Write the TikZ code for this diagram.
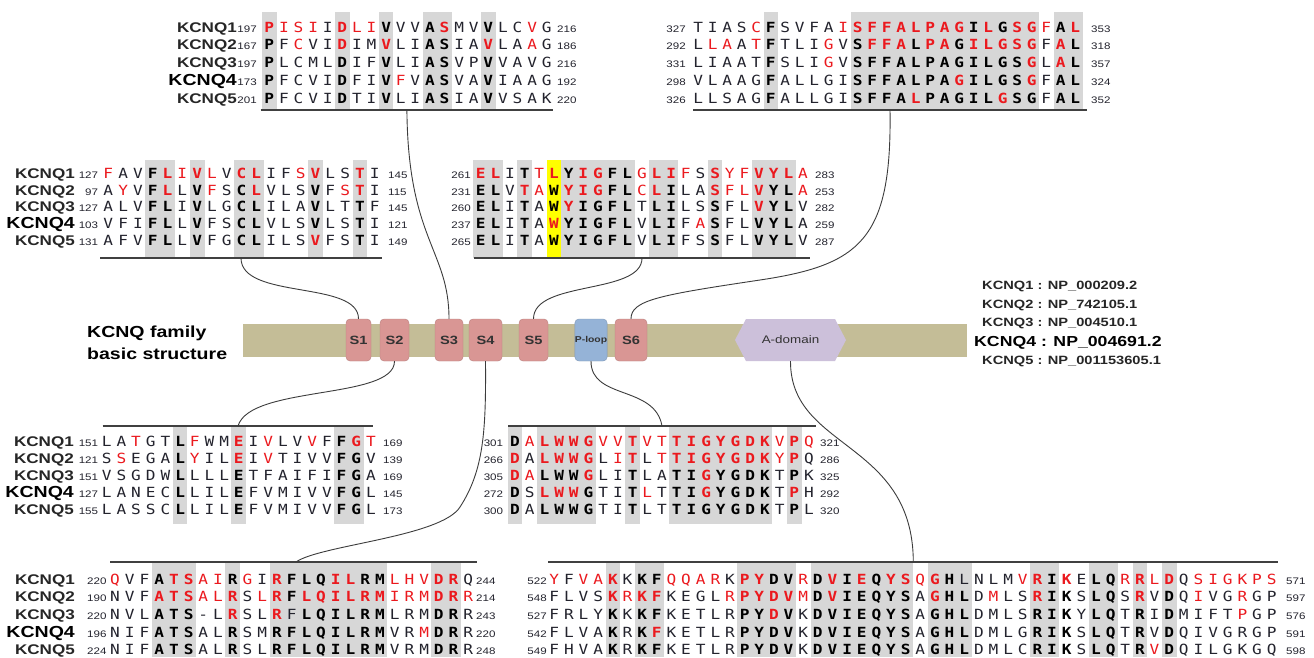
\documentclass[tikz,border=0pt]{standalone}
\usepackage{fontspec}
\setmainfont{Liberation Sans}
\newfontfamily\labfont{Liberation Sans}[FakeStretch=1.22]
\newfontfamily\seqfam{DejaVu Sans Mono}[FakeStretch=1.15]
\definecolor{seqred}{RGB}{235,25,30}
\definecolor{shadegray}{RGB}{215,215,215}
\definecolor{segred}{RGB}{217,150,148}
\definecolor{segblue}{RGB}{149,179,215}
\definecolor{adom}{RGB}{204,192,218}
\definecolor{bartan}{RGB}{196,189,151}
\definecolor{linegray}{RGB}{60,60,60}
\definecolor{txtdark}{RGB}{35,35,45}
\definecolor{yellowhl}{RGB}{255,255,0}

\tikzset{
 seqlet/.style={anchor=base, inner sep=0pt, outer sep=0pt},
 sn/.style={font=\seqfam\fontsize{14}{14}\selectfont, text=txtdark},
 sb/.style={font=\seqfam\bfseries\fontsize{14}{14}\selectfont, text=black},
 sr/.style={font=\seqfam\fontsize{14}{14}\selectfont, text=seqred},
 sR/.style={font=\seqfam\bfseries\fontsize{14}{14}\selectfont, text=seqred},
 seqcur/.style={sn},
 num/.style={font=\labfont\fontsize{9.5}{9.5}\selectfont, text=txtdark, inner sep=0pt},
 lab/.style={font=\labfont\bfseries\fontsize{14}{14}\selectfont, text=black!85, inner sep=0pt, anchor=base east},
 labbig/.style={font=\labfont\bfseries\fontsize{16}{16}\selectfont, text=black, inner sep=0pt, anchor=base east},
 legf/.style={font=\labfont\bfseries\fontsize{12}{12}\selectfont, text=black!85, inner sep=0pt, anchor=base west},
 legbig/.style={font=\labfont\bfseries\fontsize{14.5}{14.5}\selectfont, text=black, inner sep=0pt, anchor=base west},
 titlef/.style={font=\labfont\bfseries\fontsize{16}{16}\selectfont, text=black, inner sep=0pt, anchor=base west},
 uline/.style={draw=black!75, line width=1.4pt},
 conn/.style={draw=linegray, line width=0.9pt},
 gshade/.style={fill=shadegray},
 segbox/.style={draw=segred!85!black, line width=0.4pt, fill=segred, rounded corners=4pt, minimum height=42pt, inner sep=0pt, font=\labfont\bfseries\fontsize{12}{12}\selectfont, text=black!80},
}

\newcount\colidx
\def\setseq#1{\tikzset{seqcur/.style={#1}}}
\def\doseq#1{%
  \ifx#1\relax
  \else
    \ifx#1*\setseq{sb}%
    \else\ifx#1+\setseq{sr}%
    \else\ifx#1!\setseq{sR}%
    \else
      \node[seqlet,seqcur] at ({\seqx+\the\colidx*\seqdx},\seqy) {#1};%
      \global\advance\colidx by 1\relax
      \setseq{sn}%
    \fi\fi\fi
    \expandafter\doseq
  \fi}
\newcommand\seqrow[4]{\def\seqx{#1}\def\seqy{#2}\def\seqdx{#3}\global\colidx=0\relax\setseq{sn}\doseq#4\relax}
\newcommand\gcol[6]{\fill[gshade] ({#1+(#3-1.5)*#2},#5) rectangle ({#1+(#4-0.5)*#2},#6);}
\newcommand\kcnqlab[4]{%
  \foreach \i in {1,2,3,5}{\node[lab] (#1\i) at (#2,{#3+(\i-1)*#4}) {KCNQ\i};}
  \node[labbig] (#14) at (#2,{#3+3*#4}) {KCNQ4};}
\newcommand\numsL[5]{\foreach [count=\i] \n in {#5}{\node[num,anchor=base east] (#1\i) at (#2,{#3+(\i-1)*#4}) {\n};}}
\newcommand\numsR[5]{\foreach [count=\i] \n in {#5}{\node[num,anchor=base west] (#1\i) at (#2,{#3+(\i-1)*#4}) {\n};}}

\begin{document}
\begin{tikzpicture}[x=1pt,y=-1pt]
\useasboundingbox (0,0) rectangle (1314,657);
\fill[white] (0,0) rectangle (1314,657);

%% ---------- Block A (S3) ----------
\gcol{269.3}{14.6}{1}{1}{12}{110}
\gcol{269.3}{14.6}{6}{6}{12}{110}
\gcol{269.3}{14.6}{9}{9}{12}{110}
\gcol{269.3}{14.6}{12}{13}{12}{110}
\gcol{269.3}{14.6}{16}{16}{12}{110}
\seqrow{269.3}{32.2}{14.6}{!P +I +S +I I !D +L +I *V V V *A !S M V *V L C +V G}
\seqrow{269.3}{49.9}{14.6}{*P F +C V I !D I M !V L I *A *S I A !V L A +A G}
\seqrow{269.3}{67.6}{14.6}{*P L C M L *D I F *V L I *A *S V P *V V A V G}
\seqrow{269.3}{85.3}{14.6}{*P F C V I *D F I *V +F V *A *S V A *V I A A G}
\seqrow{269.3}{103.0}{14.6}{*P F C V I *D T I *V L I *A *S I A *V V S A K}
\kcnqlab{LA}{237}{32.2}{17.7}
\numsL{nA}{257}{32.2}{17.7}{197,167,197,173,201}
\numsR{eA}{557}{32.2}{17.7}{216,186,216,192,220}
\draw[uline] (260.7,110) -- (553,110);
\coordinate (uA) at (406.9,110);

%% ---------- Block B (S6) ----------
\gcol{698.3}{14.5}{6}{6}{12}{110}
\gcol{698.3}{14.5}{12}{24}{12}{110}
\gcol{698.3}{14.5}{26}{27}{12}{110}
\seqrow{698.3}{32.2}{14.5}{T I A S +C *F S V F A +I !S !F !F !A !L !P !A !G *I !L *G !S !G +F *A !L}
\seqrow{698.3}{49.9}{14.5}{L +L +A A +T *F T L I +G V *S !F !F !A *L !P !A *G !I !L !G !S !G F !A *L}
\seqrow{698.3}{67.6}{14.5}{L I A A T *F S L I +G V *S *F *F *A *L *P *A *G *I *L *G *S !G L !A *L}
\seqrow{698.3}{85.3}{14.5}{V L A A G *F A L L G I *S *F *F *A *L *P *A !G *I *L *G *S !G F *A *L}
\seqrow{698.3}{103.0}{14.5}{L L S A G *F A L L G I *S *F *F *A !L *P *A *G *I *L !G *S *G F *A *L}
\numsL{nB}{686}{32.2}{17.7}{327,292,331,298,326}
\numsR{eB}{1091}{32.2}{17.7}{353,318,357,324,352}
\draw[uline] (693,110) -- (1087,110);
\coordinate (uB) at (890,110);

%% ---------- Block C (S1) ----------
\gcol{108.3}{14.8}{4}{5}{160}{258}
\gcol{108.3}{14.8}{7}{7}{160}{258}
\gcol{108.3}{14.8}{10}{11}{160}{258}
\gcol{108.3}{14.8}{15}{15}{160}{258}
\gcol{108.3}{14.8}{18}{18}{160}{258}
\seqrow{108.3}{178.3}{14.8}{+F A V *F !L +I !V +L V !C !L I F +S !V L S !T I}
\seqrow{108.3}{195.1}{14.8}{A +Y V *F !L L *V +F S *C !L V L S *V F +S !T I}
\seqrow{108.3}{211.9}{14.8}{A L V *F *L I *V L G *C *L I L A *V L T *T F}
\seqrow{108.3}{228.7}{14.8}{V F I *F *L L *V F S *C *L V L S *V L S *T I}
\seqrow{108.3}{245.5}{14.8}{A F V *F *L L *V F G *C *L I L S !V F S *T I}
\kcnqlab{LC}{75}{178.3}{16.8}
\numsL{nC}{98.3}{178.3}{16.8}{127,97,127,103,131}
\numsR{eC}{388}{178.3}{16.8}{145,115,145,121,149}
\draw[uline] (100,258) -- (382,258);
\coordinate (uC) at (241,258);

%% ---------- Block D (S5) ----------
\gcol{480.7}{14.65}{1}{2}{160}{258}
\gcol{480.7}{14.65}{4}{4}{160}{258}
\fill[yellowhl] ({480.7+4.5*14.65},160) rectangle ({480.7+5.5*14.65},258);
\gcol{480.7}{14.65}{7}{11}{160}{258}
\gcol{480.7}{14.65}{13}{14}{160}{258}
\gcol{480.7}{14.65}{17}{17}{160}{258}
\gcol{480.7}{14.65}{20}{22}{160}{258}
\seqrow{480.7}{178.3}{14.65}{!E !L I *T +T !L *Y !I !G *F *L +G !L !I +F S !S +Y +F !V !Y !L +A}
\seqrow{480.7}{195.1}{14.65}{*E *L V !T +A *W !Y !I !G *F *L +C !L *I L A !S +F +L !V *Y *L +A}
\seqrow{480.7}{211.9}{14.65}{*E *L I *T A *W !Y *I *G *F *L T *L *I L S *S F L !V *Y *L V}
\seqrow{480.7}{228.7}{14.65}{*E *L I *T A !W *Y *I *G *F *L V *L *I F +A *S F L *V *Y *L A}
\seqrow{480.7}{245.5}{14.65}{*E *L I *T A *W *Y *I *G *F *L V *L *I F S *S F L *V *Y *L V}
\numsL{nD}{471}{178.3}{16.8}{261,231,260,237,265}
\numsR{eD}{815}{178.3}{16.8}{283,253,282,259,287}
\draw[uline] (474,258) -- (810,258);
\coordinate (uD) at (642,258);

%% ---------- Block E (S2) ----------
\gcol{106.7}{14.68}{6}{6}{426}{524}
\gcol{106.7}{14.68}{10}{10}{426}{524}
\gcol{106.7}{14.68}{17}{18}{426}{524}
\seqrow{106.7}{446.2}{14.68}{L A +T G T *L +F W M !E I +V L V +V F *F !G +T}
\seqrow{106.7}{463.3}{14.68}{S +S E G A *L +Y I L !E I +V T I V V *F *G V}
\seqrow{106.7}{480.4}{14.68}{V S G D W *L L L L *E T F A I F I *F *G A}
\seqrow{106.7}{497.5}{14.68}{L A N E C *L L I L *E F V M I V V *F *G L}
\seqrow{106.7}{514.6}{14.68}{L A S S C *L L I L *E F V M I V V *F *G L}
\kcnqlab{LE}{74}{446.2}{17.1}
\numsL{nE}{98.3}{446.2}{17.1}{151,121,151,127,155}
\numsR{eE}{383}{446.2}{17.1}{169,139,169,145,173}
\draw[uline] (102.7,426) -- (373.3,426);
\coordinate (uE) at (238,426);

%% ---------- Block F (P-loop) ----------
\gcol{515}{14.7}{1}{1}{426}{524}
\gcol{515}{14.7}{3}{6}{426}{524}
\gcol{515}{14.7}{9}{9}{426}{524}
\gcol{515}{14.7}{12}{18}{426}{524}
\gcol{515}{14.7}{20}{20}{426}{524}
\seqrow{515}{446.2}{14.7}{*D +A !L !W !W !G +V +V !T +V +T !T !I !G !Y !G !D !K +V !P +Q}
\seqrow{515}{463.3}{14.7}{!D A !L !W !W !G L +I !T L +T !T !I !G !Y !G !D !K +Y !P Q}
\seqrow{515}{480.4}{14.7}{!D +A *L *W *W !G L I *T L A *T *I !G *Y *G *D *K T *P K}
\seqrow{515}{497.5}{14.7}{*D S !L !W !W *G T I *T +L T *T *I !G *Y *G *D *K T !P H}
\seqrow{515}{514.6}{14.7}{*D A *L *W *W *G T I *T L T *T *I *G *Y *G *D *K T *P L}
\numsL{nF}{503.3}{446.2}{17.1}{301,266,305,272,300}
\numsR{eF}{820}{446.2}{17.1}{321,286,325,292,320}
\draw[uline] (508,426) -- (816,426);
\coordinate (uF) at (662,426);

%% ---------- Block G (S4) ----------
\gcol{115}{14.72}{4}{6}{562}{657}
\gcol{115}{14.72}{9}{9}{562}{657}
\gcol{115}{14.72}{12}{19}{562}{657}
\gcol{115}{14.72}{23}{24}{562}{657}
\seqrow{115}{584}{14.72}{+Q V F *A !T !S +A +I *R +G I !R *F *L *Q !I !L *R *M +L +H +V !D !R Q}
\seqrow{115}{601.7}{14.72}{N V F !A !T !S +A +L !R S +L !R *F !L !Q !I !L !R !M +I +R +M !D !R +R}
\seqrow{115}{619.4}{14.72}{N V L *A *T *S - L !R S L !R F *L *Q *I *L *R *M L R M *D *R R}
\seqrow{115}{637.1}{14.72}{N I F *A *T *S A L *R S M *R *F *L *Q *I *L *R *M V R +M *D *R R}
\seqrow{115}{654.8}{14.72}{N I F *A *T *S A L *R S L *R *F *L *Q *I *L *R *M V R M *D *R R}
\kcnqlab{LG}{75}{584}{17.7}
\numsL{nG}{106.7}{584}{17.7}{220,190,220,196,224}
\numsR{eG}{476}{584}{17.7}{244,214,243,220,248}
\draw[uline] (110,562) -- (477,562);
\coordinate (uG) at (296,562);

%% ---------- Block H (A-domain) ----------
\gcol{554.3}{14.64}{5}{5}{562}{657}
\gcol{554.3}{14.64}{7}{8}{562}{657}
\gcol{554.3}{14.64}{14}{17}{562}{657}
\gcol{554.3}{14.64}{19}{25}{562}{657}
\gcol{554.3}{14.64}{27}{29}{562}{657}
\gcol{554.3}{14.64}{34}{35}{562}{657}
\gcol{554.3}{14.64}{38}{39}{562}{657}
\gcol{554.3}{14.64}{41}{41}{562}{657}
\gcol{554.3}{14.64}{43}{43}{562}{657}
\seqrow{554.3}{584}{14.64}{+Y F +V +A !K K *K *F +Q +Q +A +R K !P !Y *D *V +R *D !V *I !E *Q !Y !S +Q !G *H L N L M +V !R *I !K E *L *Q +R !R +L !D Q +S +I +G +K +P +S}
\seqrow{554.3}{601.7}{14.64}{F L V S !K +R !K !F K E G L +R !P !Y !D !V +M *D !V *I *E *Q *Y *S A !G *H *L D +M L S !R *I *K S *L *Q S !R V *D Q +I V G +R G P}
\seqrow{554.3}{619.4}{14.64}{F R L Y *K K *K *F K E T L R *P *Y !D *V K *D *V *I *E *Q *Y *S A *G *H *L D M L S *R *I *K Y *L *Q T *R I *D M I F T +P G P}
\seqrow{554.3}{637.1}{14.64}{F L V A *K R *K !F K E T L R *P *Y *D *V K *D *V *I *E *Q *Y *S A *G *H *L D M L G *R *I *K S *L *Q T *R V *D Q I V G R G P}
\seqrow{554.3}{654.8}{14.64}{F H V A *K R *K *F K E T L R *P *Y *D *V K *D *V *I *E *Q *Y *S A *G *H *L D M L C *R *I *K S *L *Q T *R +V *D Q I L G K G Q}
\numsL{nH}{547}{584}{17.7}{522,548,527,542,549}
\numsR{eH}{1286}{584}{17.7}{571,597,576,591,598}
\draw[uline] (548.3,562) -- (1278.3,562);
\coordinate (uH) at (913.3,562);

%% ---------- basic structure bar ----------
\node[titlef] (T1) at (87,337) {KCNQ family};
\node[titlef] (T2) at (87,359) {basic structure};
\node[fill=bartan, draw=none, minimum width=724pt, minimum height=33pt, inner sep=0pt] (bar) at (605,340.5) {};
\node[segbox, minimum width=25pt] (S1) at (358.5,340) {S1};
\node[segbox, minimum width=29pt] (S2) at (394.5,340) {S2};
\node[segbox, minimum width=28pt] (S3) at (449,340) {S3};
\node[segbox, minimum width=33pt] (S4) at (485.5,340) {S4};
\node[segbox, minimum width=29pt] (S5) at (533.5,340) {S5};
\node[segbox, fill=segblue, draw=segblue!85!black, minimum width=32pt, font=\labfont\bfseries\fontsize{8.5}{8.5}\selectfont] (PL) at (591,340) {P-loop};
\node[segbox, minimum width=32pt] (S6) at (631,340) {S6};
\fill[adom] (735,340) -- (746,319) -- (835,319) -- (846,340) -- (835,361) -- (746,361) -- cycle;
\node[font=\labfont\fontsize{11}{11}\selectfont, text=black!80, inner sep=0pt] (AD) at (790.5,340) {A-domain};
\coordinate (ADs) at (790.5,361);

%% ---------- legend ----------
\node[legf] (G1) at (982,289.5) {KCNQ1 : NP\_000209.2};
\node[legf] (G2) at (982,308) {KCNQ2 : NP\_742105.1};
\node[legf] (G3) at (982,326.3) {KCNQ3 : NP\_004510.1};
\node[legbig] (G4) at (974,346) {KCNQ4 : NP\_004691.2};
\node[legf] (G5) at (982,364.5) {KCNQ5 : NP\_001153605.1};

%% ---------- connectors ----------
\draw[conn] (uA) .. controls (408,240) and (449,250) .. (S3.north);
\draw[conn] (uC) .. controls (241,300) and (358.5,280) .. (S1.north);
\draw[conn] (uD) .. controls (642,295) and (533.5,280) .. (S5.north);
\draw[conn] (uB) .. controls (892,240) and (860,265) .. (760,280) .. controls (660,295) and (631,300) .. (S6.north);
\draw[conn] (S2.south) .. controls (394.5,400) and (250,385) .. (uE);
\draw[conn] (PL.south) .. controls (591,400) and (655,385) .. (uF);
\draw[conn] (S4.south) .. controls (486,430) and (484,470) .. (460,507) .. controls (441,537) and (320,545) .. (uG);
\draw[conn] (ADs) .. controls (790,450) and (913,440) .. (uH);
\end{tikzpicture}
\end{document}
